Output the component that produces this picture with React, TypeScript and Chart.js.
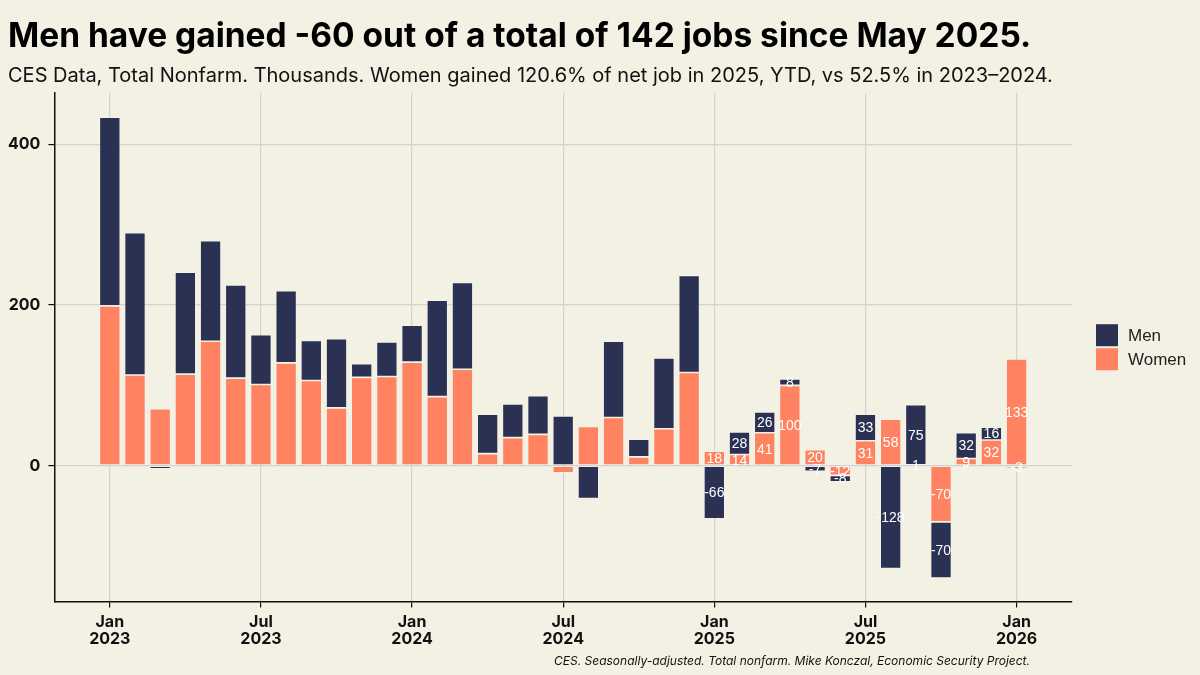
import React, { useEffect, useRef } from "react";
import { Chart, registerables } from "chart.js";

Chart.register(...registerables);

const categories = [
  "Jan 2023", "Feb 2023", "Mar 2023", "Apr 2023", "May 2023", "Jun 2023",
  "Jul 2023", "Aug 2023", "Sep 2023", "Oct 2023", "Nov 2023", "Dec 2023",
  "Jan 2024", "Feb 2024", "Mar 2024", "Apr 2024", "May 2024", "Jun 2024",
  "Jul 2024", "Aug 2024", "Sep 2024", "Oct 2024", "Nov 2024", "Dec 2024",
  "Jan 2025", "Feb 2025", "Mar 2025", "Apr 2025", "May 2025", "Jun 2025",
  "Jul 2025", "Aug 2025", "Sep 2025", "Oct 2025", "Nov 2025", "Dec 2025",
  "Jan 2026",
];

const women = [
  199, 113, 71, 114, 155, 109, 101, 128, 106, 72, 110, 111,
  129, 86, 120, 15, 35, 39, -9, 49, 60, 11, 46, 116,
  18, 14, 41, 100, 20, -12, 31, 58, 1, -70, 9, 32, 133,
];

const men = [
  235, 177, -4, 127, 125, 116, 62, 90, 50, 86, 17, 43,
  46, 120, 108, 49, 42, 48, 62, -41, 95, 22, 88, 121,
  -66, 28, 26, 8, -7, -8, 33, -128, 75, -70, 32, 16, -3,
];

const xTickLabels = ["Jan 2023", "Jul 2023", "Jan 2024", "Jul 2024", "Jan 2025", "Jul 2025", "Jan 2026"];
const yTickValues = [0, 200, 400];
const labelFrom = "Jan 2025";

const TITLE = "Men have gained -60 out of a total of 142 jobs since May 2025.";
const SUBTITLE =
  "CES Data, Total Nonfarm. Thousands. Women gained 120.6% of net job in 2025, YTD, vs 52.5% in 2023\u20132024.";
const FOOTER = "CES. Seasonally-adjusted. Total nonfarm. Mike Konczal, Economic Security Project.";

const BG = "#f3f0e4";
const NAVY = "#2b3152";
const ORANGE = "#ff8360";
const SANS = 'Inter, "Noto Sans", sans-serif';
const HELV = '"Liberation Sans", Arial, sans-serif';

const textPlugin = {
  id: "texts",
  beforeDraw(chart: any) {
    const ctx = chart.ctx;
    ctx.save();
    ctx.fillStyle = BG;
    ctx.fillRect(0, 0, chart.width, chart.height);
    ctx.fillStyle = "#000";
    ctx.textAlign = "left";
    ctx.textBaseline = "alphabetic";
    ctx.font = `700 33.5px ${SANS}`;
    ctx.fillText(TITLE, 8, 47);
    ctx.fillStyle = "#111";
    ctx.font = `400 20px ${SANS}`;
    ctx.fillText(SUBTITLE, 8, 82);
    ctx.font = `italic 400 12px ${SANS}`;
    ctx.textAlign = "right";
    ctx.fillText(FOOTER, 1030, 665);
    ctx.restore();
  },
  afterDraw(chart: any) {
    // legend (Men first), placed to the right of the plot area
    const ctx = chart.ctx;
    const area = chart.chartArea;
    const items = chart.data.datasets.slice().reverse();
    const box = 22;
    const gap = 2;
    const x = area.right + 24;
    const totalH = items.length * box + (items.length - 1) * gap;
    let y = (area.top + area.bottom) / 2 - totalH / 2;
    ctx.save();
    ctx.font = `17px ${HELV}`;
    ctx.textBaseline = "middle";
    ctx.textAlign = "left";
    items.forEach((ds: any) => {
      ctx.fillStyle = ds.backgroundColor;
      ctx.fillRect(x, y, box, box);
      ctx.fillStyle = "#222";
      ctx.fillText(ds.label, x + box + 10, y + box / 2 + 1);
      y += box + gap;
    });
    ctx.restore();
  },
};

const labelPlugin = {
  id: "barLabels",
  afterDatasetsDraw(chart: any) {
    const start = categories.indexOf(labelFrom);
    const ctx = chart.ctx;
    ctx.save();
    ctx.font = `14px ${HELV}`;
    ctx.fillStyle = "#ffffff";
    ctx.textAlign = "center";
    ctx.textBaseline = "middle";
    chart.data.datasets.forEach((ds: any, di: number) => {
      const meta = chart.getDatasetMeta(di);
      meta.data.forEach((bar: any, i: number) => {
        if (i < start) return;
        const v = ds.data[i].y;
        const p = bar.getProps(["x", "y", "base"], true);
        ctx.fillText(String(v), p.x, (p.y + p.base) / 2 + 1);
      });
    });
    ctx.restore();
  },
};

export default function App() {
  const ref = useRef<HTMLCanvasElement | null>(null);

  useEffect(() => {
    if (!ref.current) return;
    const chart = new Chart(ref.current, {
      type: "bar",
      data: {
        datasets: [
          {
            label: "Women",
            data: women.map((v, i) => ({ x: i, y: v })),
            backgroundColor: ORANGE,
            borderColor: "rgba(255,255,255,0.3)",
            borderWidth: 0.8,
            borderSkipped: false,
            stack: "s",
          },
          {
            label: "Men",
            data: men.map((v, i) => ({ x: i, y: v })),
            backgroundColor: NAVY,
            borderColor: "rgba(255,255,255,0.3)",
            borderWidth: 0.8,
            borderSkipped: false,
            stack: "s",
          },
        ],
      },
      plugins: [textPlugin, labelPlugin],
      options: {
        animation: false,
        responsive: true,
        maintainAspectRatio: false,
        layout: { padding: { top: 93, bottom: 21, left: 0, right: 128 } },
        datasets: { bar: { categoryPercentage: 1, barPercentage: 0.83 } },
        plugins: {
          legend: { display: false },
          tooltip: { enabled: false },
        },
        scales: {
          x: {
            type: "linear",
            stacked: true,
            offset: false,
            min: -2.2,
            max: 38.2,
            afterBuildTicks: (scale: any) => {
              scale.ticks = xTickLabels.map((l) => ({ value: categories.indexOf(l) }));
            },
            ticks: {
              autoSkip: false,
              maxRotation: 0,
              padding: 6,
              color: "#111",
              font: { family: SANS, size: 16, weight: "bold", lineHeight: 1.08 },
              callback: (value: any) => {
                const l = categories[Math.round(Number(value))];
                return l ? l.split(" ") : "";
              },
            },
            grid: { offset: false, color: "#d2d2d2", lineWidth: 1.2, tickColor: "#111", tickLength: 6 },
            border: { display: true, color: "#111", width: 1.5 },
          },
          y: {
            stacked: true,
            min: -169,
            max: 464,
            afterBuildTicks: (scale: any) => {
              scale.ticks = yTickValues.map((v) => ({ value: v }));
            },
            ticks: {
              padding: 8,
              color: "#111",
              font: { family: SANS, size: 16, weight: "bold" },
            },
            grid: { color: "#d2d2d2", lineWidth: 1.2, tickColor: "#111", tickLength: 6 },
            border: { display: true, color: "#111", width: 1.5 },
          },
        },
      },
    } as any);
    return () => chart.destroy();
  }, []);

  return (
    <div style={{ position: "fixed", left: 0, top: 0, width: 1200, height: 675, background: BG }}>
      <canvas ref={ref} />
    </div>
  );
}
